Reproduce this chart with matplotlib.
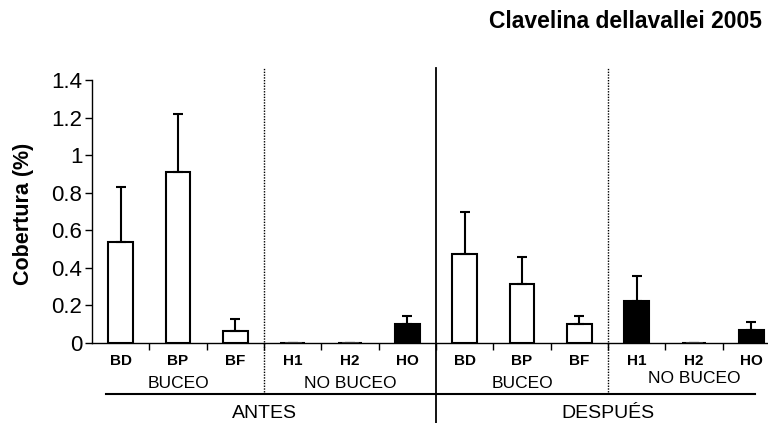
import matplotlib.pyplot as plt
import numpy as np

plt.rcParams['font.family'] = ['Liberation Sans', 'DejaVu Sans']

cats = ['BD', 'BP', 'BF', 'H1', 'H2', 'HO', 'BD', 'BP', 'BF', 'H1', 'H2', 'HO']
cobertura = [0.536, 0.91, 0.064, 0.0, 0.0, 0.10, 0.475, 0.316, 0.10, 0.225, 0.0, 0.068]
err = [0.294, 0.31, 0.062, 0.0, 0.0, 0.044, 0.222, 0.14, 0.044, 0.133, 0.0, 0.042]
fill = ['white', 'white', 'white', 'white', 'white', 'black',
        'white', 'white', 'white', 'black', 'white', 'black']
grupos = ['BUCEO', 'NO BUCEO', 'BUCEO', 'NO BUCEO']
periodos = ['ANTES', 'DESPUÉS']

fig = plt.figure(figsize=(7.68, 4.23), dpi=100)
ax = fig.add_axes([92/768, 80/423, 688/768, 263/423])

x = np.arange(len(cats))
ax.bar(x, cobertura, width=0.43, color=fill, edgecolor='black', linewidth=1.5, zorder=3)
ax.errorbar(x, cobertura, yerr=[np.zeros(len(err)), err], fmt='none',
            ecolor='black', elinewidth=1.5, capsize=3.5, capthick=1.5, zorder=4)
# tiny dash for zero bars
for xi, v in zip(x, cobertura):
    if v == 0:
        ax.plot([xi - 0.12, xi + 0.12], [0, 0], color='#444444', lw=2, zorder=4)

ax.set_xlim(-0.5, 11.5)
ax.set_ylim(0, 1.4)
ax.set_yticks(np.arange(0, 1.41, 0.2))
ax.set_yticklabels(['0', '0.2', '0.4', '0.6', '0.8', '1', '1.2', '1.4'], fontsize=16)
ax.tick_params(axis='y', direction='out', length=5, width=1, pad=2)
ax.set_xticks(x)
ax.set_xticklabels(cats, fontsize=11, fontweight='bold')
ax.tick_params(axis='x', which='major', length=0, pad=8)
ax.set_xticks(np.arange(0.5, 11.5, 1), minor=True)
ax.tick_params(axis='x', which='minor', direction='out', length=5, width=1)
ax.spines['top'].set_visible(False)
ax.spines['right'].set_visible(False)
ax.spines['left'].set_linewidth(1)
ax.spines['bottom'].set_linewidth(1)

ax.text(-0.099, 0.49, 'Cobertura (%)', transform=ax.transAxes, rotation=90,
        ha='center', va='center', fontsize=15.5, fontweight='bold')

# group labels below the tick labels
for i, g in enumerate(grupos):
    ypos = -0.215 if i < 3 else -0.19
    ax.text(3 * i + 1, ypos, g, ha='center', va='center', fontsize=12.5,
            clip_on=False)
ax.plot([-0.256, 11.06], [-0.271, -0.271], color='black', lw=1.5, clip_on=False)
for i, p in enumerate(periodos):
    ax.text(6 * i + 2.5, -0.375, p, ha='center', va='center', fontsize=14,
            clip_on=False)

# dividers
ax.plot([5.5, 5.5], [-0.426, 1.464], color='black', lw=1.3, clip_on=False)
for xd in (2.5, 8.5):
    ax.plot([xd, xd], [-0.26, 1.464], color='black', lw=1, ls=(0, (1, 1)),
            clip_on=False)

fig.text(762/768, 1 - 21/423, 'Clavelina dellavallei 2005', ha='right',
         va='center', fontsize=16.5, fontweight='bold')

fig.savefig('out.png', dpi=100)
